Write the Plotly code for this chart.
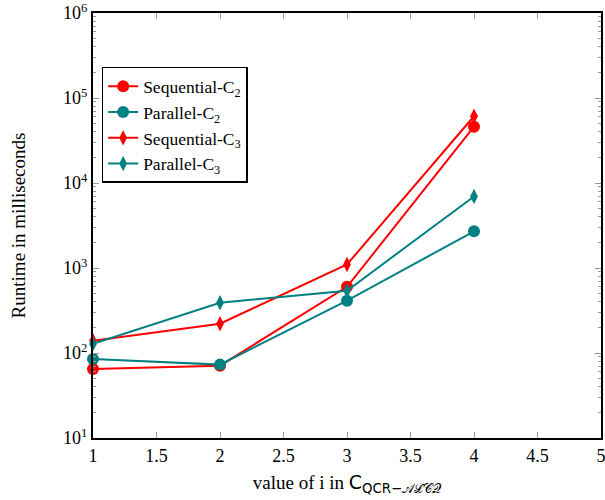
import plotly.graph_objects as go

x_vals = [1, 2, 3, 4]
seq_c2 = [65, 71, 600, 46000]
par_c2 = [85, 73, 413, 2700]
seq_c3 = [139, 221, 1100, 61000]
par_c3 = [128, 390, 541, 6950]

y_tick_vals = [10, 100, 1000, 10000, 100000, 1000000]
y_tick_text = ["10<sup>1</sup>", "10<sup>2</sup>", "10<sup>3</sup>", "10<sup>4</sup>", "10<sup>5</sup>", "10<sup>6</sup>"]
x_tick_vals = [1, 1.5, 2, 2.5, 3, 3.5, 4, 4.5, 5]
x_tick_text = ["1", "1.5", "2", "2.5", "3", "3.5", "4", "4.5", "5"]

RED = "#ff0000"
TEAL = "#008080"
FONT = "Liberation Serif"

minor_y = [m * 10 ** e for e in range(1, 6) for m in range(2, 10)]

fig = go.Figure()
series = [
    ("Sequential-C<sub>2</sub>", seq_c2, RED, "circle", 12),
    ("Parallel-C<sub>2</sub>", par_c2, TEAL, "circle", 12),
    ("Sequential-C<sub>3</sub>", seq_c3, RED, "diamond-tall", 11),
    ("Parallel-C<sub>3</sub>", par_c3, TEAL, "diamond-tall", 11),
]
for name, ys, col, sym, sz in series:
    fig.add_trace(go.Scatter(
        x=x_vals, y=ys, name=name, mode="lines+markers",
        line=dict(color=col, width=2),
        marker=dict(color=col, symbol=sym, size=sz, line=dict(width=0)),
        cliponaxis=False,
    ))

x_title = ("value of i in <span style='font-family:DejaVu Sans'>C</span>"
           "<sub><span style='font-family:DejaVu Sans'>QCR−</span>𝒜ℒ𝒞𝒬</sub>")

fig.update_layout(
    width=605, height=500,
    margin=dict(l=93, r=4, t=13, b=62),
    paper_bgcolor="white", plot_bgcolor="white",
    font=dict(family=FONT, size=18, color="black"),
    showlegend=True,
    legend=dict(
        x=0.017, y=0.873, xanchor="left", yanchor="top",
        bgcolor="white", bordercolor="black", borderwidth=1.5,
        font=dict(family=FONT, size=17.5),
        tracegroupgap=0,
    ),
    xaxis=dict(
        range=[1, 5], tickmode="array", tickvals=x_tick_vals, ticktext=x_tick_text,
        ticks="inside", ticklen=6, tickcolor="#999999", tickwidth=1,
        showline=True, linecolor="black", linewidth=2, mirror="allticks",
        showgrid=False, zeroline=False, automargin=False, ticklabeloverflow="allow",
        tickfont=dict(family=FONT, size=18),
        title=dict(text=x_title, font=dict(family=FONT, size=19), standoff=11),
    ),
    yaxis=dict(
        type="log", range=[1, 6], tickmode="array", tickvals=y_tick_vals, ticktext=y_tick_text,
        ticks="inside", ticklen=6, tickcolor="#999999", tickwidth=1,
        showline=True, linecolor="black", linewidth=2, mirror="allticks",
        showgrid=False, zeroline=False, automargin=False, ticklabeloverflow="allow",
        tickfont=dict(family=FONT, size=18),
        minor=dict(tickmode="array", tickvals=minor_y, ticks="inside", ticklen=3, tickcolor="#999999", tickwidth=1, showgrid=False),
        title=dict(text="Runtime in milliseconds", font=dict(family=FONT, size=19), standoff=32),
    ),
)

fig.write_html("out.html", post_script="document.body.style.margin='0';",
               config={"displayModeBar": False})
